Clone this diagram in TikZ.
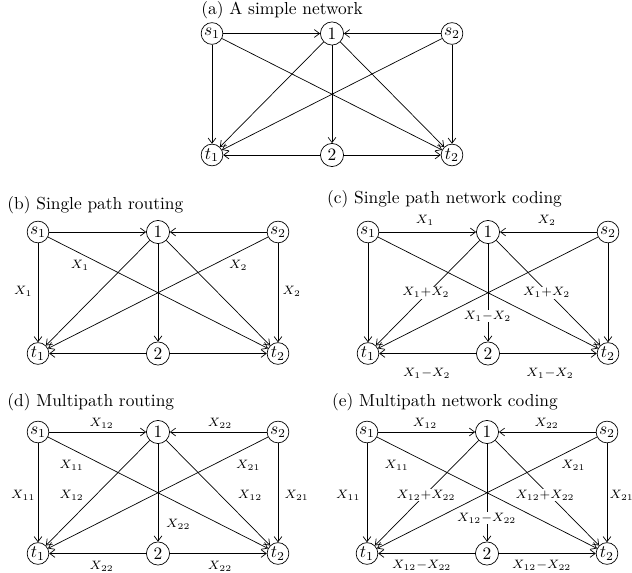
\documentclass[tikz,border=0pt]{standalone}
\usetikzlibrary{arrows.meta}
\tikzset{
  vtx/.style={circle,draw,line width=0.4pt,inner sep=0.3pt,minimum size=12.5pt},
  vtxb/.style={vtx,minimum size=13.3pt},
  arr/.style={-{Straight Barb[length=3pt,width=4.5pt]},line width=0.4pt},
  lbl/.style={font=\scriptsize,inner sep=0.6pt},
  onl/.style={lbl,fill=white},
  ttl/.style={anchor=west,inner sep=0pt},
}
\newcommand\mynet[1]{%
  \node[vtx]  (#1s1) at (0,0) {$s_1$};
  \node[vtxb] (#1n1) at (120,0) {$1$};
  \node[vtx]  (#1s2) at (240,0) {$s_2$};
  \node[vtx]  (#1t1) at (0,121.5) {$t_1$};
  \node[vtxb] (#1n2) at (120,121.5) {$2$};
  \node[vtx]  (#1t2) at (240,121.5) {$t_2$};
  \draw[arr] (#1s1) -- (#1n1);
  \draw[arr] (#1s2) -- (#1n1);
  \draw[arr] (#1s1) -- (#1t1);
  \draw[arr] (#1s1) -- (#1t2);
  \draw[arr] (#1n1) -- (#1t1);
  \draw[arr] (#1n1) -- (#1n2);
  \draw[arr] (#1n1) -- (#1t2);
  \draw[arr] (#1s2) -- (#1t1);
  \draw[arr] (#1s2) -- (#1t2);
  \draw[arr] (#1n2) -- (#1t1);
  \draw[arr] (#1n2) -- (#1t2);
}
\begin{document}
\begin{tikzpicture}[x=0.575pt,y=-0.575pt]
\useasboundingbox (0,0) rectangle (632,573);
% titles
\node[ttl] (ta) at (201,10) {(a) A simple network};
\node[ttl] (tb) at (7,205) {(b) Single path routing};
\node[ttl] (tc) at (326.7,199) {(c) Single path network coding};
\node[ttl] (td) at (7,401.7) {(d) Multipath routing};
\node[ttl] (te) at (331.7,401.7) {(e) Multipath network coding};
% (a)
\begin{scope}[shift={(212,33.5)}]
  \mynet{a}
\end{scope}
% (b)
\begin{scope}[shift={(38,232)}]
  \mynet{b}
  \node[lbl] (bl1) at (-14.7,59.7) {$X_1$};
  \node[lbl] (bl2) at (42,33) {$X_1$};
  \node[lbl] (bl3) at (200.3,33) {$X_2$};
  \node[lbl] (bl4) at (253.7,59.7) {$X_2$};
\end{scope}
% (c)
\begin{scope}[shift={(368,232)}]
  \mynet{c}
  \node[lbl] (cl1) at (57,-12) {$X_1$};
  \node[lbl] (cl2) at (178.7,-12) {$X_2$};
  \node[onl] (cl3) at (58,60.7) {$X_1{+}X_2$};
  \node[onl] (cl4) at (178.7,60.7) {$X_1{+}X_2$};
  \node[onl] (cl5) at (119.5,84) {$X_1{-}X_2$};
  \node[lbl] (cl6) at (58.7,141.3) {$X_1{-}X_2$};
  \node[lbl] (cl7) at (182,141.3) {$X_1{-}X_2$};
\end{scope}
% (d)
\begin{scope}[shift={(38,432)}]
  \mynet{d}
  \node[lbl] (dl1) at (63.7,-8.4) {$X_{12}$};
  \node[lbl] (dl2) at (182,-8.4) {$X_{22}$};
  \node[lbl] (dl3) at (33.7,33) {$X_{11}$};
  \node[lbl] (dl4) at (210.3,33) {$X_{21}$};
  \node[lbl] (dl5) at (-14.7,63) {$X_{11}$};
  \node[lbl] (dl6) at (33.7,63) {$X_{12}$};
  \node[lbl] (dl7) at (212,63) {$X_{12}$};
  \node[lbl] (dl8) at (258.7,63) {$X_{21}$};
  \node[lbl] (dl9) at (140.3,92) {$X_{22}$};
  \node[lbl] (dl10) at (63.7,134.7) {$X_{22}$};
  \node[lbl] (dl11) at (182,134.7) {$X_{22}$};
\end{scope}
% (e)
\begin{scope}[shift={(367,432)}]
  \mynet{e}
  \node[lbl] (el1) at (58,-8.4) {$X_{12}$};
  \node[lbl] (el2) at (179.7,-8.4) {$X_{22}$};
  \node[lbl] (el3) at (29.7,33) {$X_{11}$};
  \node[lbl] (el4) at (206.3,33) {$X_{21}$};
  \node[lbl] (el5) at (-18.7,63) {$X_{11}$};
  \node[onl] (el6) at (59,63) {$X_{12}{+}X_{22}$};
  \node[onl] (el7) at (178,63) {$X_{12}{+}X_{22}$};
  \node[lbl] (el8) at (254.7,63) {$X_{21}$};
  \node[onl] (el9) at (119.7,86.3) {$X_{12}{-}X_{22}$};
  \node[lbl] (el10) at (54.7,133) {$X_{12}{-}X_{22}$};
  \node[lbl] (el11) at (174.7,133) {$X_{12}{-}X_{22}$};
\end{scope}
\end{tikzpicture}
\end{document}
